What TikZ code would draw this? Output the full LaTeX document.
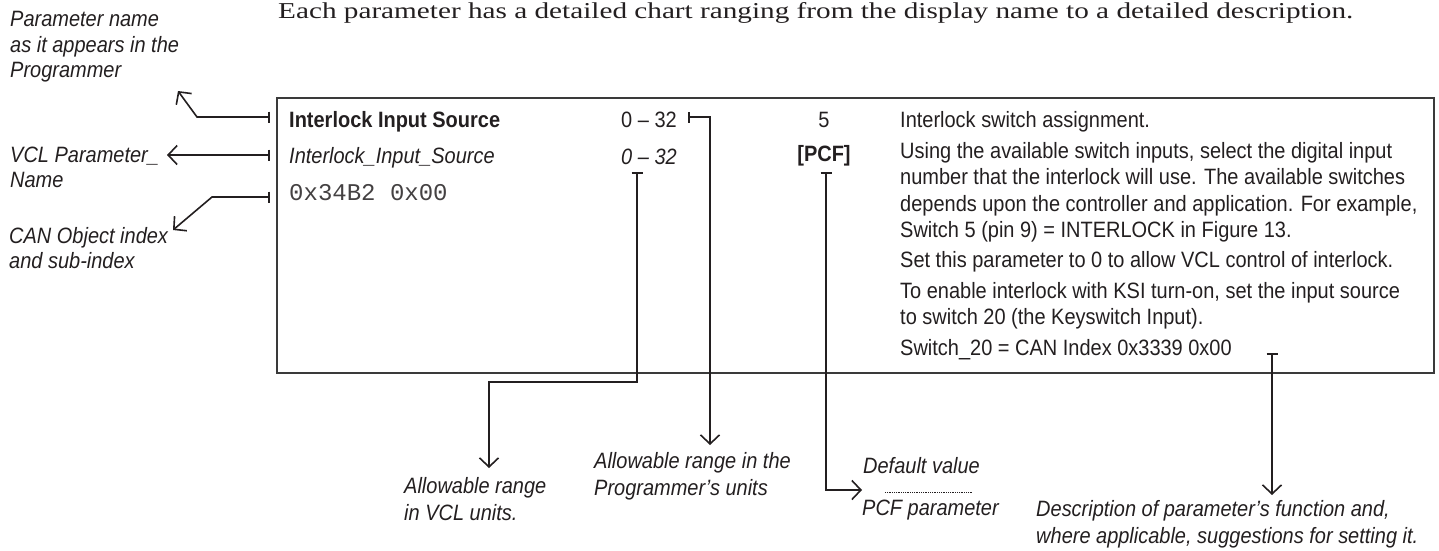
\documentclass[tikz,border=0pt]{standalone}
\usepackage{graphicx}
\usepackage{fontspec}
\setmainfont{Liberation Serif}
\setsansfont{Liberation Sans}[FakeStretch=0.90]
\setmonofont{Liberation Mono}
\usetikzlibrary{arrows.meta}
\definecolor{ink}{HTML}{231F20}
\definecolor{boxc}{HTML}{3A3A3A}
\newcommand\bodyfnt{\fontsize{22.2}{26}\selectfont\sffamily}
\tikzset{
  txt/.style={anchor=base west, inner sep=0pt, text=ink, font=\bodyfnt},
  txtc/.style={anchor=base, inner sep=0pt, text=ink, font=\bodyfnt},
  lbl/.style={anchor=base west, inner sep=0pt, text=ink, font=\bodyfnt\itshape},
  hexf/.style={anchor=base west, inner sep=0pt, text=ink!85, font=\fontsize{24}{28}\selectfont\ttfamily},
  conn/.style={draw=ink, line width=1.6pt, line join=miter,
    arrows={Bar[width=11pt,line width=1.6pt]-Straight Barb[length=9pt,width=19pt,line width=1.6pt]}},
  tbox/.style={draw=boxc, line width=1.3pt},
}
\begin{document}
\begin{tikzpicture}[x=1pt,y=-1pt]
\useasboundingbox (0,0) rectangle (1439,550);

% header
\node[anchor=base west, inner sep=0pt, text=ink] (head) at (278,18)
  {\resizebox{1075pt}{16pt}{\fontsize{24}{28}\selectfont\rmfamily Each parameter has a detailed chart ranging from the display name to a detailed description.}};

% chart box
\draw[tbox] (277,98) rectangle (1434,373);

% chart contents
\node[txt, font=\bodyfnt\bfseries] (pname) at (289,127) {Interlock Input Source};
\node[txt, font=\bodyfnt\itshape] (vname) at (289,163) {Interlock\_Input\_Source};
\node[hexf] (hex) at (289,200) {0x34B2 0x00};
\node[txt] (rng) at (621,127) {0 -- 32};
\node[txt, font=\bodyfnt\itshape] (vrng) at (621,164) {0 -- 32};
\node[txtc] (def) at (824,127) {5};
\node[txtc, font=\bodyfnt\bfseries] (pcf) at (824,161) {[PCF]};
\node[txt] (d1) at (900,127) {Interlock switch assignment.};
\node[txt] (d2) at (900,158) {Using the available switch inputs, select the digital input};
\node[txt] (d3) at (900,184) {number that the interlock will use. The available switches};
\node[txt] (d4) at (900,211) {depends upon the controller and application. For example,};
\node[txt] (d5) at (900,237) {Switch 5 (pin 9) = INTERLOCK in Figure 13.};
\node[txt] (d6) at (900,267) {Set this parameter to 0 to allow VCL control of interlock.};
\node[txt] (d7) at (900,298) {To enable interlock with KSI turn-on, set the input source};
\node[txt] (d8) at (900,324) {to switch 20 (the Keyswitch Input).};
\node[txt] (d9) at (900,355) {Switch\_20 = CAN Index 0x3339 0x00};

% labels
\node[lbl] (l1a) at (10,26) {Parameter name};
\node[lbl] (l1b) at (10,52) {as it appears in the};
\node[lbl] (l1c) at (10,77) {Programmer};
\node[lbl] (l2a) at (10,162) {VCL Parameter\_};
\node[lbl] (l2b) at (10,187) {Name};
\node[lbl] (l3a) at (9,243) {CAN Object index};
\node[lbl] (l3b) at (9,268) {and sub-index};
\node[lbl] (l4a) at (404,493) {Allowable range};
\node[lbl] (l4b) at (404,520) {in VCL units.};
\node[lbl] (l5a) at (594,468) {Allowable range in the};
\node[lbl] (l5b) at (594,495) {Programmer’s units};
\node[lbl] (l6a) at (863,473) {Default value};
\node[lbl] (l6b) at (862,515) {PCF parameter};
\node[lbl] (l7a) at (1036,516) {Description of parameter’s function and,};
\node[lbl] (l7b) at (1036,543) {where applicable, suggestions for setting it.};
\draw[ink, line width=0.8pt, dash pattern=on 0.9pt off 0.9pt] (885,492) -- (973,492);

% connector end points
\coordinate (s1) at (270,117); \coordinate (e1) at (178,91);
\coordinate (s2) at (270,155); \coordinate (e2) at (167,155);
\coordinate (s3) at (270,197); \coordinate (e3) at (173,230);
\coordinate (s4) at (688,117); \coordinate (e4) at (710,445);
\coordinate (s5) at (637,172); \coordinate (e5) at (489,468);
\coordinate (s6) at (826,172); \coordinate (e6) at (862,490);
\coordinate (s7) at (1272,353); \coordinate (e7) at (1272,495);

\draw[conn] (s1) -- ++(-73,0) -- (e1);
\draw[conn] (s2) -- (e2);
\draw[conn] (s3) -- ++(-58,0) -- (e3);
\draw[conn] (s4) -| (e4);
\draw[conn] (s5) -- ++(0,210) -| (e5);
\draw[conn] (s6) |- (e6);
\draw[conn] (s7) -- (e7);
\end{tikzpicture}
\end{document}
